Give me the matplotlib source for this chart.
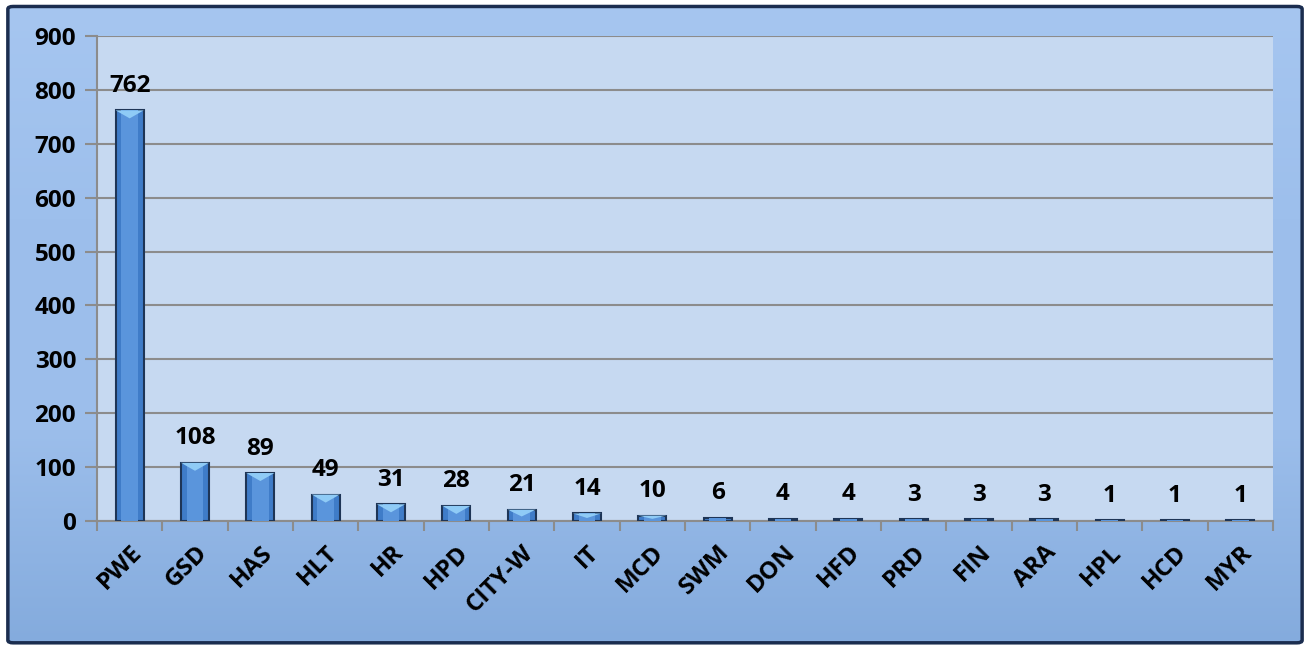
import matplotlib
matplotlib.use("Agg")
import matplotlib.pyplot as plt
import numpy as np
from matplotlib.patches import FancyBboxPatch, Polygon
from matplotlib.colors import LinearSegmentedColormap

categories = ["PWE", "GSD", "HAS", "HLT", "HR", "HPD", "CITY-W", "IT", "MCD",
              "SWM", "DON", "HFD", "PRD", "FIN", "ARA", "HPL", "HCD", "MYR"]
values = [762, 108, 89, 49, 31, 28, 21, 14, 10, 6, 4, 4, 3, 3, 3, 1, 1, 1]
yticks = [0, 100, 200, 300, 400, 500, 600, 700, 800, 900]

plt.rcParams['font.family'] = ['Open Sans', 'DejaVu Sans']
FS = 17.5
BAR_W = 0.43

fig = plt.figure(figsize=(13.1, 6.48), dpi=100)
fig.patch.set_facecolor('white')

# background frame with gradient
bg = fig.add_axes([0, 0, 1, 1], zorder=-10)
bg.set_xlim(0, 1); bg.set_ylim(0, 1); bg.axis('off')
grad = np.linspace(0, 1, 256).reshape(-1, 1)
cmap = LinearSegmentedColormap.from_list('bgc', ['#84ABDD', '#9CBEEB', '#9DBFEC', '#A6C6F0'])
bg.imshow(grad, extent=[0.006, 0.994, 0.008, 0.99], aspect='auto', cmap=cmap, origin='lower')
frame = FancyBboxPatch((0.006, 0.008), 0.988, 0.982, boxstyle="round,pad=0,rounding_size=0.004",
                       fill=False, edgecolor='#1B2D4F', linewidth=2.5, transform=bg.transAxes)
bg.add_patch(frame)

ax = fig.add_axes([97/1310, 1 - 521/648, (1273-97)/1310, (521-36)/648])
ax.set_facecolor('#C6D9F1')
x = np.arange(len(categories))
ax.bar(x, values, width=BAR_W, color='#3F7CC8', edgecolor='#1E3556', linewidth=1.5, zorder=3)
ax.bar(x, values, width=0.26, color='#5A95DC', linewidth=0, zorder=4)

# light bevel cap at bar tops (depth ~8 px, limited by bar height)
ax.set_ylim(0, 900)
cap = 8 * 900 / 485
for xi, v in zip(x, values):
    h = min(cap, v * 0.6)
    if v >= 10:
        tri = Polygon([(xi - BAR_W / 2, v), (xi + BAR_W / 2, v), (xi, v - h)],
                      closed=True, facecolor='#8FCBF6', edgecolor='none', zorder=5)
        ax.add_patch(tri)

for xi, v in zip(x, values):
    ax.annotate(str(v), (xi, v), xytext=(0, 9), textcoords='offset points',
                ha='center', va='bottom', fontsize=FS, fontweight='bold', color='black')

ax.set_xlim(-0.5, len(categories) - 0.5)
ax.set_yticks(yticks)
ax.set_yticklabels([str(t) for t in yticks], fontsize=FS, fontweight='bold')
ax.yaxis.grid(True, color='#8C8C8C', linewidth=1.5, zorder=0)
ax.set_axisbelow(True)
ax.set_xticks(np.arange(-0.5, len(categories), 1.0))
ax.set_xticklabels([])
ax.set_xticks(x, minor=True)
ax.set_xticklabels(categories, minor=True, rotation=45, ha='right', rotation_mode='anchor',
                   fontsize=FS, fontweight='bold')
ax.tick_params(axis='x', which='minor', length=0, pad=14)
ax.tick_params(axis='x', which='major', length=7, width=1.5, color='#8C8C8C')
ax.tick_params(axis='y', length=9, width=1.5, color='#8C8C8C', pad=6)
for s in ['top', 'right']:
    ax.spines[s].set_visible(False)
ax.spines['left'].set_color('#8C8C8C'); ax.spines['left'].set_linewidth(1.5)
ax.spines['bottom'].set_color('#8C8C8C'); ax.spines['bottom'].set_linewidth(1.5)

fig.savefig('out.png', dpi=100, facecolor=fig.get_facecolor())
